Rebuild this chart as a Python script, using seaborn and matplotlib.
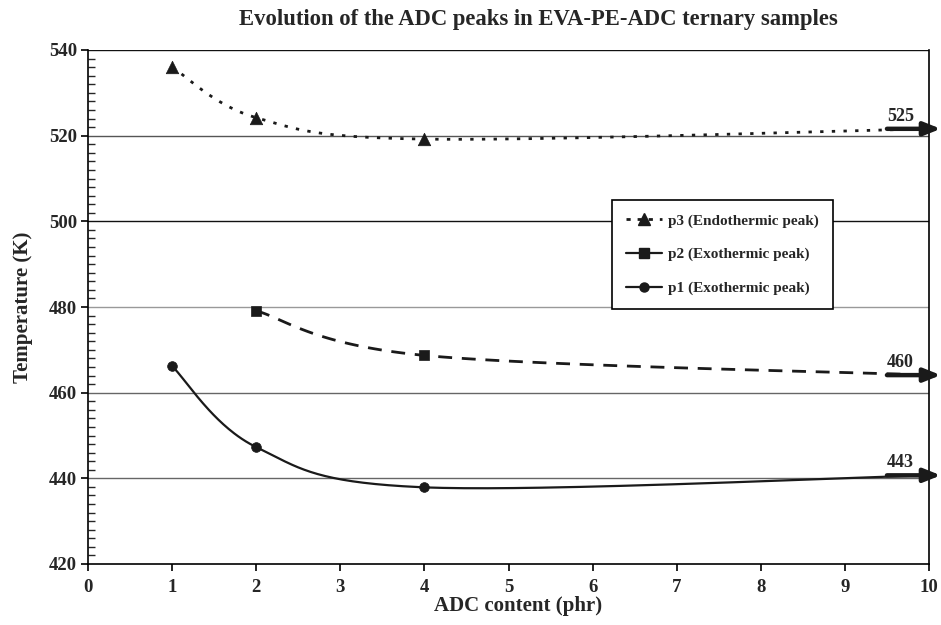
import numpy as np
import pandas as pd
import matplotlib
matplotlib.use("Agg")
import matplotlib.pyplot as plt
from matplotlib.lines import Line2D
from matplotlib.ticker import MultipleLocator
import seaborn as sns

# ---- data ----
adc_p3 = [1, 2, 4]
p3 = [536.0, 524.2, 519.2]
adc_p2 = [2, 4]
p2 = [479.1, 468.7]
adc_p1 = [1, 2, 4]
p1 = [466.2, 447.3, 437.9]
end_x = 10
p3_end = 521.6
p2_end = 464.1
p1_end = 440.7
end_labels = ["525", "460", "443"]
series_names = ["p3 (Endothermic peak)", "p2 (Exothermic peak)", "p1 (Exothermic peak)"]
title = "Evolution of the ADC peaks in EVA-PE-ADC ternary samples"
x_label = "ADC content (phr)"
y_label = "Temperature (K)"


def smooth(xs, ys, n=60):
    """Excel-like smoothed line (Bezier with Catmull-Rom control points)."""
    P = np.column_stack([xs, ys]).astype(float)
    out = []
    m = len(P)
    for i in range(m - 1):
        p0 = P[i]
        p3_ = P[i + 1]
        prev = P[i - 1] if i > 0 else P[i]
        nxt = P[i + 2] if i + 2 < m else P[i + 1]
        c1 = p0 + (p3_ - prev) / 6.0
        c2 = p3_ - (nxt - p0) / 6.0
        t = np.linspace(0, 1, n)[:, None]
        seg = ((1 - t) ** 3) * p0 + 3 * ((1 - t) ** 2) * t * c1 + 3 * (1 - t) * t ** 2 * c2 + t ** 3 * p3_
        out.append(seg if i == 0 else seg[1:])
    return np.vstack(out)


sns.set_style("ticks")
plt.rcParams["font.family"] = ["Liberation Serif", "DejaVu Serif"]
plt.rcParams["font.weight"] = "bold"

fig = plt.figure(figsize=(9.41, 6.25), dpi=100)
ax = fig.add_axes([88 / 941, 1 - 564 / 625, (929 - 88) / 941, (564 - 50) / 625])

# gridlines
for yv, col in [(440, "#666666"), (460, "#666666"), (480, "#999999"), (500, "#111111"), (520, "#555555"), (540, "#111111")]:
    ax.axhline(yv, color=col, lw=1.0, zorder=0)

specs = [
    (adc_p3, p3, p3_end, "^", (1.2, 3.0), 2.0, 9),
    (adc_p2, p2, p2_end, "s", (5.0, 3.5), 2.0, 7),
    (adc_p1, p1, p1_end, "o", None, 1.6, 7),
]
for (xs, ys, ye, mk, dash, lw, ms), name in zip(specs, series_names):
    curve = smooth(list(xs) + [end_x], list(ys) + [ye])
    df = pd.DataFrame({"x": curve[:, 0], "y": curve[:, 1]})
    sns.lineplot(data=df, x="x", y="y", sort=False, estimator=None, ax=ax,
                 color="#1a1a1a", lw=lw)
    l = ax.lines[-1]
    if dash is not None:
        l.set_dashes(dash)
    dm = pd.DataFrame({"x": xs, "y": ys})
    sns.scatterplot(data=dm, x="x", y="y", marker=mk, s=ms ** 2, color="#1a1a1a",
                    edgecolor="#1a1a1a", linewidth=0.5, ax=ax, zorder=5)

# end arrows and labels
for ye, lab in zip([p3_end, p2_end, p1_end], end_labels):
    ax.annotate("", xy=(10.14, ye), xytext=(9.5, ye),
                arrowprops=dict(arrowstyle="-|>,head_length=1.0,head_width=0.4",
                                color="#1a1a1a", lw=3.2, shrinkA=0, shrinkB=0),
                annotation_clip=False)
    ax.text(9.66, ye + 1.0, lab, ha="center", va="bottom", fontsize=13, fontweight="bold")

ax.set_xlim(0, 10)
ax.set_ylim(420, 540)
ax.xaxis.set_major_locator(MultipleLocator(1))
ax.yaxis.set_major_locator(MultipleLocator(20))
ax.yaxis.set_minor_locator(MultipleLocator(2))
ax.tick_params(axis="both", which="major", direction="out", length=5, width=1.2,
               labelsize=13.5, color="black")
ax.tick_params(axis="y", which="minor", direction="in", length=5, width=1.0)
for lab in ax.get_xticklabels() + ax.get_yticklabels():
    lab.set_fontweight("bold")
ax.tick_params(axis="x", pad=6)
ax.tick_params(axis="y", pad=3)
for sp in ["left", "bottom", "right"]:
    ax.spines[sp].set_visible(True)
    ax.spines[sp].set_color("black")
    ax.spines[sp].set_linewidth(1.2)
ax.spines["top"].set_visible(False)

ax.set_xlabel(x_label, fontsize=15, fontweight="bold")
ax.set_ylabel(y_label, fontsize=15, fontweight="bold")
ax.xaxis.set_label_coords((518 - 88) / 841, -0.063)
ax.yaxis.set_label_coords(-0.065, 0.5)
fig.text(538 / 941, 1 - 20 / 625, title, ha="center", va="center", fontsize=16.3, fontweight="bold")

handles = [
    Line2D([], [], color="#1a1a1a", marker="^", ms=8, lw=2, dashes=(1.5, 2.5)),
    Line2D([], [], color="#1a1a1a", marker="s", ms=6.5, lw=1.6),
    Line2D([], [], color="#1a1a1a", marker="o", ms=6.5, lw=1.6),
]
leg = ax.legend(handles, series_names, loc="upper left", bbox_to_anchor=(0.623, 0.708),
                frameon=True, fancybox=False, framealpha=1, edgecolor="black",
                prop={"size": 11, "weight": "bold"}, labelspacing=1.3, handlelength=2.4,
                borderpad=0.9, handletextpad=0.4, borderaxespad=0)
leg.get_frame().set_linewidth(1.2)

fig.savefig("out.png", dpi=100)
